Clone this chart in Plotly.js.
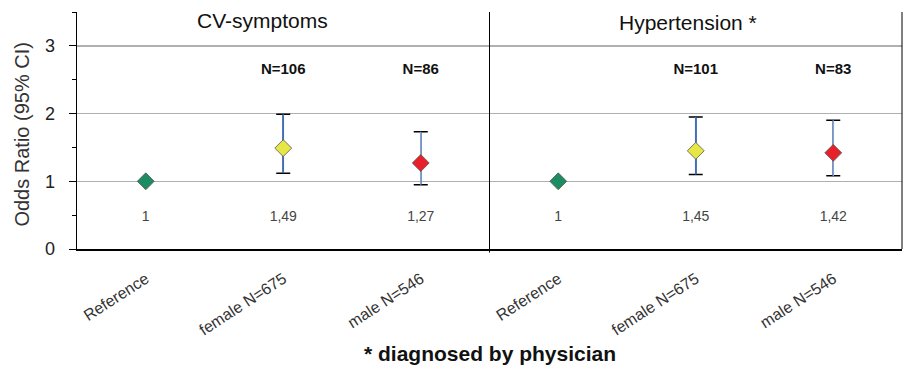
<!DOCTYPE html>
<html><head><meta charset="utf-8">
<script src="https://cdn.plot.ly/plotly-3.0.1.min.js"></script>
<style>html,body{margin:0;padding:0;background:#fff}</style>
</head><body><div id="chart" style="width:907px;height:367px"></div>
<script>
// ---- data ----
const categories = ["Reference", "female N=675", "male N=546", "Reference", "female N=675", "male N=546"];
const oddsRatio = [1, 1.49, 1.27, 1, 1.45, 1.42];
const ciLower   = [1, 1.12, 0.95, 1, 1.10, 1.08];
const ciUpper   = [1, 1.99, 1.73, 1, 1.95, 1.90];
const valueLabels = ["1", "1,49", "1,27", "1", "1,45", "1,42"];
const nLabels   = ["", "N=106", "N=86", "", "N=101", "N=83"];
const panelTitles = ["CV-symptoms", "Hypertension *"];
const yTicks = [0, 1, 2, 3];
const yTitle = "Odds Ratio (95% CI)";
const xTitle = "* diagnosed by physician";

// ---- styles ----
const markerColors = ["#1e8c62", "#e6e645", "#e8202a", "#1e8c62", "#e6e645", "#e8202a"];
const barColors = ["#3a70c8", "#3a70c8", "#7fa6dc", "#3a70c8", "#3a70c8", "#7fa6dc"];
const font = "Liberation Sans, Arial, sans-serif";

const xs = categories.map((_, i) => i);
const traces = [];
// black caps
traces.push({
  x: xs, y: oddsRatio, type: 'scatter', mode: 'markers',
  marker: {size: 1, color: 'rgba(0,0,0,0)'},
  error_y: {type: 'data', symmetric: false,
    array: oddsRatio.map((v, i) => ciUpper[i] - v),
    arrayminus: oddsRatio.map((v, i) => v - ciLower[i]),
    color: '#000', thickness: 1.5, width: 7},
  hoverinfo: 'skip', showlegend: false
});
// blue stems per point
xs.forEach(i => {
  if (ciUpper[i] === ciLower[i]) return;
  traces.push({
    x: [i], y: [oddsRatio[i]], type: 'scatter', mode: 'markers',
    marker: {size: 1, color: 'rgba(0,0,0,0)'},
    error_y: {type: 'data', symmetric: false,
      array: [ciUpper[i] - oddsRatio[i]], arrayminus: [oddsRatio[i] - ciLower[i]],
      color: barColors[i], thickness: 1.6, width: 0},
    hoverinfo: 'skip', showlegend: false
  });
});
// diamonds
traces.push({
  x: xs, y: oddsRatio, type: 'scatter', mode: 'markers',
  marker: {symbol: 'diamond', size: 13, color: markerColors, line: {color: '#555', width: 0.8}},
  showlegend: false
});
// value labels
traces.push({
  x: xs, y: xs.map(() => 0.47), type: 'scatter', mode: 'text', text: valueLabels,
  textfont: {family: font, size: 14, color: '#444'}, hoverinfo: 'skip', showlegend: false
});
// N labels
traces.push({
  x: xs, y: xs.map(() => 2.64), type: 'scatter', mode: 'text',
  text: nLabels.map(s => s ? '<b>' + s + '</b>' : ''),
  textfont: {family: font, size: 15, color: '#111'}, hoverinfo: 'skip', showlegend: false
});

const layout = {
  width: 907, height: 367,
  margin: {l: 77, r: 5, t: 12, b: 118},
  paper_bgcolor: '#fff', plot_bgcolor: '#fff',
  font: {family: font, color: '#222'},
  xaxis: {
    range: [-0.5, 5.5], tickvals: xs, ticktext: categories, tickangle: -33,
    tickfont: {family: font, size: 16, color: '#333'}, ticklabelstandoff: 13,
    showgrid: false, zeroline: false, showline: true, linecolor: '#000', linewidth: 1.5,
    ticks: '', fixedrange: true, automargin: false
  },
  yaxis: {
    range: [0, 3.5], tickvals: yTicks, ticks: 'outside', ticklen: 7, tickcolor: '#000',
    minor: {dtick: 0.5, ticks: 'outside', ticklen: 4, tickcolor: '#000', showgrid: false},
    tickfont: {family: font, size: 18, color: '#222'}, ticklabelstandoff: 10,
    showgrid: true, gridcolor: '#b0b0b0', gridwidth: 1.5,
    zeroline: false, showline: true, linecolor: '#000', linewidth: 1.5, mirror: false,
    automargin: false
  },
  shapes: [
    {type: 'line', xref: 'x', yref: 'paper', x0: 2.5, x1: 2.5, y0: -0.015, y1: 1, line: {color: '#000', width: 1}},
    {type: 'line', xref: 'paper', yref: 'paper', x0: 1, x1: 1, y0: 0, y1: 1, line: {color: '#000', width: 1}}
  ],
  annotations: [
    {text: panelTitles[0], xref: 'x', yref: 'paper', x: 0.85, y: 0.966, yanchor: 'middle', showarrow: false,
     font: {family: font, size: 21, color: '#111'}},
    {text: panelTitles[1], xref: 'x', yref: 'paper', x: 3.94, y: 0.954, yanchor: 'middle', showarrow: false,
     font: {family: font, size: 21, color: '#111'}},
    {text: yTitle, xref: 'paper', yref: 'paper', x: -0.066, y: 0.485, textangle: -90,
     xanchor: 'center', yanchor: 'middle', showarrow: false,
     font: {family: font, size: 20, color: '#333'}},
    {text: '<b>' + xTitle + '</b>', xref: 'paper', yref: 'paper', x: 0.5, y: -0.439,
     xanchor: 'center', yanchor: 'middle', showarrow: false,
     font: {family: font, size: 21, color: '#111'}}
  ]
};
Plotly.newPlot('chart', traces, layout, {displayModeBar: false, staticPlot: true});
</script></body></html>
